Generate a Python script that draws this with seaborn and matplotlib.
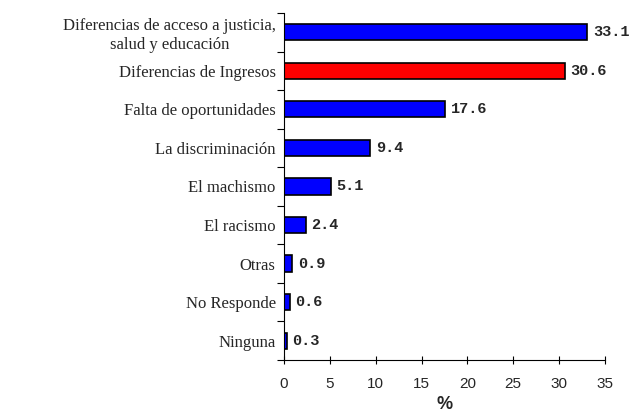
import pandas as pd
import matplotlib
matplotlib.use("Agg")
import matplotlib.pyplot as plt
import seaborn as sns

# Data
categories = ["Diferencias de acceso a justicia,\nsalud y educación",
              "Diferencias de Ingresos",
              "Falta de oportunidades",
              "La discriminación",
              "El machismo",
              "El racismo",
              "Otras",
              "No Responde",
              "Ninguna"]
values = [33.1, 30.6, 17.6, 9.4, 5.1, 2.4, 0.9, 0.6, 0.3]
bar_colors = ["#0000ff", "#ff0000", "#0000ff", "#0000ff", "#0000ff",
              "#0000ff", "#0000ff", "#0000ff", "#0000ff"]
x_ticks = [0, 5, 10, 15, 20, 25, 30, 35]

df = pd.DataFrame({"cat": categories, "val": values})

sns.set_style("white")
plt.rcParams['font.family'] = ['Liberation Sans', 'DejaVu Sans']

fig = plt.figure(figsize=(6.34, 4.19), dpi=100)
ax = fig.add_axes([0.448, 0.141, 0.506, 0.828])

sns.barplot(data=df, y="cat", x="val", hue="cat", palette=bar_colors,
            legend=False, orient="h", width=0.42, edgecolor="black",
            linewidth=1.2, ax=ax, saturation=1)

for i, v in enumerate(values):
    ax.text(v + 0.6, i, f"{v:.1f}", va="center", ha="left",
            fontsize=11, fontweight="bold", family="Liberation Mono")

ax.set_xlim(0, 35)
ax.set_ylim(8.5, -0.5)
ax.set_xticks(x_ticks)
ax.set_xticklabels([str(t) for t in x_ticks], fontsize=11)
ax.set_yticks(range(len(categories)))
ax.set_yticklabels(categories, fontsize=12, family="Liberation Serif")
ax.set_yticks([i - 0.5 for i in range(len(categories) + 1)], minor=True)
ax.tick_params(axis="y", which="major", length=0, pad=6)
ax.tick_params(axis="y", which="minor", length=5, width=0.8, color="black",
               direction="out", left=True)
ax.tick_params(axis="x", length=6, width=0.8, color="black",
               direction="inout", bottom=True, pad=9)
for lbl in ax.get_yticklabels():
    lbl.set_horizontalalignment("right")
    lbl.set_multialignment("center")

ax.set_xlabel("%", fontsize=13, fontweight="bold", labelpad=4)
ax.set_ylabel("")
for s in ["top", "right"]:
    ax.spines[s].set_visible(False)
for s in ["left", "bottom"]:
    ax.spines[s].set_color("black")
    ax.spines[s].set_linewidth(0.8)

fig.savefig("out.png", dpi=100)
